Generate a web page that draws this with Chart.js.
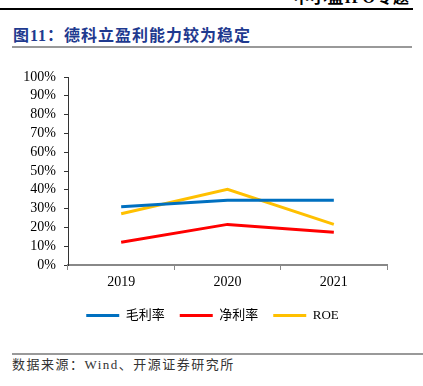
<!DOCTYPE html>
<html>
<head>
<meta charset="utf-8">
<script src="https://cdn.jsdelivr.net/npm/chart.js@4"></script>
<style>
    body { margin: 0; width: 423px; height: 386px; overflow: hidden; background: #fff; position: relative;
           font-family: "Liberation Serif", "Noto Sans CJK SC", serif; }
    .abs { position: absolute; }
    #header { right: 13px; top: -16px; font-size: 16px; font-weight: bold; color: #000; letter-spacing: 1px; }
    #topline { left: 0; top: 8px; width: 413px; height: 2px; background: #000; }
    #title { left: 13px; top: 22px; font-size: 16px; font-weight: bold; color: #1f3a8f; letter-spacing: 1px; }
    #titleline { left: 12px; top: 46px; width: 400px; height: 2px; background: #999; }
    #srcline { left: 12px; top: 353px; width: 411px; height: 2px; background: #999; }
    #source { left: 12px; top: 354px; font-size: 13px; color: #333; letter-spacing: 1.5px; }
    #wrap { left: 0; top: 60px; width: 423px; height: 280px; }
</style>
</head>
<body>
<div id="header" class="abs">中小盘IPO专题</div>
<div id="topline" class="abs"></div>
<div id="title" class="abs">图11：德科立盈利能力较为稳定</div>
<div id="titleline" class="abs"></div>
<div id="wrap" class="abs"><canvas id="chart" width="423" height="280"></canvas></div>
<div id="srcline" class="abs"></div>
<div id="source" class="abs">数据来源：Wind、开源证券研究所</div>

<script>
// chart data (percent)
const years = ['2019', '2020', '2021'];
const grossMargin = [31.0, 34.4, 34.4];
const netMargin = [12.1, 21.6, 17.4];
const roe = [27.3, 40.3, 21.6];
const yTicks = [0, 10, 20, 30, 40, 50, 60, 70, 80, 90, 100];

const serif = '"Liberation Serif", "Noto Sans CJK SC", serif';

function series(label, data, color) {
    return {
        label, data,
        borderColor: color, backgroundColor: color,
        borderWidth: 3, pointRadius: 0, tension: 0, fill: false
    };
}

// legend in the reference sits a bit right of the plot's centre
const shiftLegend = {
    id: 'shiftLegend',
    afterLayout(chart) {
        chart.legend.left += 19;
        chart.legend.right += 19;
    }
};

new Chart(document.getElementById('chart'), {
    type: 'line',
    data: {
        labels: years,
        datasets: [
            series('毛利率', grossMargin, '#0070c0'),
            series('净利率', netMargin, '#ff0000'),
            series('ROE', roe, '#ffc000')
        ]
    },
    plugins: [shiftLegend],
    options: {
        responsive: false, animation: false,
        layout: { padding: { left: 0, right: 36, top: 17, bottom: 8 } },
        plugins: {
            tooltip: { enabled: false },
            legend: {
                position: 'bottom',
                labels: {
                    boxWidth: 33, boxHeight: 3, padding: 15,
                    color: '#000', font: { family: serif, size: 13 },
                    generateLabels: chart => Chart.defaults.plugins.legend.labels.generateLabels(chart)
                        .map(item => ({ ...item, lineWidth: 0 }))
                }
            }
        },
        scales: {
            x: {
                offset: true,
                afterFit: s => { s.height = 29; },
                grid: { offset: true, drawOnChartArea: false, tickLength: 5, color: '#888', lineWidth: 1 },
                border: { color: '#888', width: 2 },
                ticks: { color: '#000', padding: 4, font: { family: serif, size: 14 } }
            },
            y: {
                min: 0, max: 100,
                afterFit: s => { s.width = 68; },
                afterBuildTicks: s => { s.ticks = yTicks.map(v => ({ value: v })); },
                grid: { drawOnChartArea: false, tickLength: 4, color: '#333' },
                border: { color: '#333', width: 1 },
                ticks: { color: '#000', padding: 8, autoSkip: false, font: { family: serif, size: 14 }, callback: v => v + '%' }
            }
        }
    }
});
</script>
</body>
</html>
